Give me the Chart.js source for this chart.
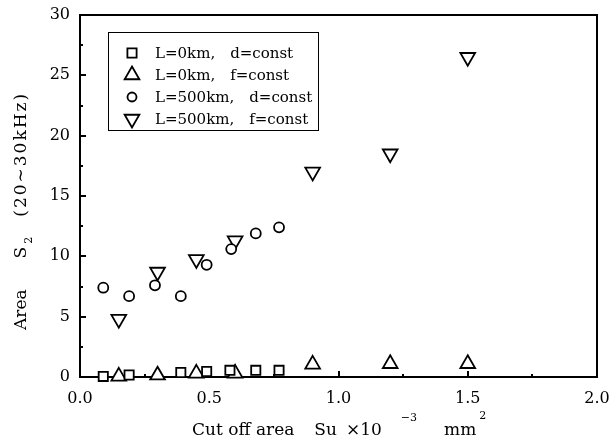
<!DOCTYPE html>
<html>
<head>
<meta charset="utf-8">
<script src="https://cdn.jsdelivr.net/npm/chart.js@4.4.1/dist/chart.umd.min.js"></script>
<style>
  html, body { margin: 0; padding: 0; background: #fff; }
</style>
</head>
<body>
<canvas id="chart" width="611" height="446"></canvas>
<script>
const seriesLabels = [
    'L=0km,\u3000d=const',
    'L=0km,\u3000f=const',
    'L=500km,\u3000d=const',
    'L=500km,\u3000f=const'
];

// L=0km, d=const
const sqX = [0.09, 0.19, 0.39, 0.49, 0.58, 0.68, 0.77];
const sqY = [0.05, 0.17, 0.37, 0.45, 0.55, 0.55, 0.55];
// L=0km, f=const
const upX = [0.15, 0.30, 0.45, 0.60, 0.90, 1.20, 1.50];
const upY = [0.05, 0.15, 0.30, 0.30, 1.05, 1.10, 1.10];
// L=500km, d=const
const ciX = [0.09, 0.19, 0.29, 0.39, 0.49, 0.585, 0.68, 0.77];
const ciY = [7.4, 6.7, 7.6, 6.7, 9.3, 10.6, 11.9, 12.4];
// L=500km, f=const
const dnX = [0.15, 0.30, 0.45, 0.60, 0.90, 1.20, 1.50];
const dnY = [4.8, 8.7, 9.75, 11.3, 17.0, 18.5, 26.5];

const xMajorTicks = [0, 0.5, 1.0, 1.5, 2.0];
const xMinorTicks = [0.25, 0.75, 1.25, 1.75];
const yMajorTicks = [0, 5, 10, 15, 20, 25, 30];
const yMinorTicks = [2.5, 7.5, 12.5, 17.5, 22.5, 27.5];

const serif = '"DejaVu Serif", "Liberation Serif", serif';

function toPoints(xs, ys) {
    return xs.map((x, i) => ({ x, y: ys[i] }));
}

const frameAndTicks = {
    id: 'frameAndTicks',
    beforeDatasetsDraw(chart) {
        const { ctx, chartArea: a, scales: { x, y } } = chart;
        ctx.save();
        ctx.strokeStyle = '#000';
        ctx.lineWidth = 2;
        ctx.beginPath();
        ctx.moveTo(a.left, a.top);
        ctx.lineTo(a.right, a.top);
        ctx.lineTo(a.right, a.bottom);
        ctx.stroke();

        const xTick = (v, len) => {
            const px = Math.round(x.getPixelForValue(v));
            ctx.moveTo(px, a.bottom);
            ctx.lineTo(px, a.bottom - len);
        };
        const yTick = (v, len) => {
            const py = Math.round(y.getPixelForValue(v));
            ctx.moveTo(a.left, py);
            ctx.lineTo(a.left + len, py);
        };
        ctx.beginPath();
        xMajorTicks.slice(1, -1).forEach((v) => xTick(v, 6));
        xMinorTicks.forEach((v) => xTick(v, 3));
        yMajorTicks.slice(1, -1).forEach((v) => yTick(v, 6));
        yMinorTicks.forEach((v) => yTick(v, 3));
        ctx.stroke();
        ctx.restore();
    }
};

const axisTitles = {
    id: 'axisTitles',
    afterDraw(chart) {
        const { ctx, chartArea: a } = chart;
        ctx.save();
        ctx.fillStyle = '#000';
        ctx.textBaseline = 'alphabetic';
        ctx.textAlign = 'left';

        const big = '17px ' + serif;
        const small = '11px ' + serif;

        // x title: Cut off area  Su ×10^-3  mm^2
        const xParts = [
            { t: 'Cut off area', f: big, gap: 0, dy: 0 },
            { t: 'Su', f: big, gap: 20, dy: 0 },
            { t: '\u00d710', f: big, gap: 9, dy: 0 },
            { t: '\u22123', f: small, gap: 19, dy: -14 },
            { t: 'mm', f: big, gap: 27, dy: 0 },
            { t: '2', f: small, gap: 3, dy: -16 }
        ];
        let cx = a.left + 112;
        const base = a.bottom + 58;
        xParts.forEach((p) => {
            cx += p.gap;
            ctx.font = p.f;
            ctx.fillText(p.t, cx, base + p.dy);
            cx += ctx.measureText(p.t).width;
        });

        // y title: Area  S_2  (20~30kHz)
        const yParts = [
            { t: 'Area', f: big, gap: 0, dy: 0, ls: 0 },
            { t: 'S', f: big, gap: 31, dy: 0, ls: 0 },
            { t: '2', f: small, gap: 3, dy: 6, ls: 0 },
            { t: '(20\u223c30kHz)', f: big, gap: 20, dy: 0, ls: 2 }
        ];
        ctx.translate(26, a.bottom - 47);
        ctx.rotate(-Math.PI / 2);
        let cy = 0;
        yParts.forEach((p) => {
            cy += p.gap;
            ctx.font = p.f;
            ctx.letterSpacing = p.ls + 'px';
            ctx.fillText(p.t, cy, p.dy);
            cy += ctx.measureText(p.t).width;
        });
        ctx.restore();
    }
};

const boxLegend = {
    id: 'boxLegend',
    afterDraw(chart) {
        const { ctx, chartArea: a } = chart;
        const left = a.left + 28;
        const top = a.top + 17;
        ctx.save();
        ctx.fillStyle = '#fff';
        ctx.fillRect(left, top, 210, 98);
        ctx.strokeStyle = '#000';
        ctx.lineWidth = 1;
        ctx.strokeRect(left + 0.5, top + 0.5, 210, 98);
        chart.data.datasets.forEach((ds, i) => {
            const rowY = top + 21 + i * 22;
            ctx.strokeStyle = '#000';
            ctx.fillStyle = '#fff';
            ctx.lineWidth = ds.borderWidth;
            Chart.helpers.drawPoint(ctx, {
                pointStyle: ds.pointStyle,
                rotation: ds.rotation || 0,
                radius: ds.legendRadius,
                borderWidth: ds.borderWidth
            }, left + 24, rowY);
            ctx.fillStyle = '#000';
            ctx.font = '15px ' + serif;
            ctx.textBaseline = 'middle';
            ctx.fillText(ds.label, left + 47, rowY + 1);
        });
        ctx.restore();
    }
};

const common = {
    borderColor: '#000',
    backgroundColor: '#fff',
    borderWidth: 1.8,
    showLine: false,
    clip: false
};

new Chart(document.getElementById('chart').getContext('2d'), {
    type: 'scatter',
    data: {
        datasets: [
            { ...common, label: seriesLabels[0], data: toPoints(sqX, sqY), pointStyle: 'rect', pointRadius: 6.5, legendRadius: 6.5 },
            { ...common, label: seriesLabels[1], data: toPoints(upX, upY), pointStyle: 'triangle', pointRadius: 8.5, legendRadius: 8.5 },
            { ...common, label: seriesLabels[2], data: toPoints(ciX, ciY), pointStyle: 'circle', pointRadius: 5, legendRadius: 4.5 },
            { ...common, label: seriesLabels[3], data: toPoints(dnX, dnY), pointStyle: 'triangle', rotation: 180, pointRotation: 180, pointRadius: 8.5, legendRadius: 8.5 }
        ]
    },
    options: {
        responsive: false,
        animation: false,
        events: [],
        layout: { padding: { left: 0, top: 15, right: 14, bottom: 0 } },
        plugins: {
            legend: { display: false },
            tooltip: { enabled: false }
        },
        scales: {
            x: {
                type: 'linear',
                min: 0,
                max: 2,
                afterFit: (s) => { s.height = 69; s.paddingLeft = 0; s.paddingRight = 0; },
                afterBuildTicks: (s) => { s.ticks = xMajorTicks.map((v) => ({ value: v })); },
                grid: { display: false, drawTicks: false },
                border: { display: true, color: '#000', width: 2 },
                ticks: {
                    color: '#000',
                    padding: 12,
                    maxRotation: 0,
                    font: { family: serif, size: 16 },
                    callback: (v) => Number(v).toFixed(1)
                }
            },
            y: {
                type: 'linear',
                min: 0,
                max: 30,
                afterFit: (s) => { s.width = 80; s.paddingTop = 0; s.paddingBottom = 0; },
                afterBuildTicks: (s) => { s.ticks = yMajorTicks.map((v) => ({ value: v })); },
                grid: { display: false, drawTicks: false },
                border: { display: true, color: '#000', width: 2 },
                ticks: {
                    color: '#000',
                    padding: 10,
                    font: { family: serif, size: 16 },
                    callback: (v) => String(v)
                }
            }
        }
    },
    plugins: [frameAndTicks, axisTitles, boxLegend]
});
</script>
</body>
</html>
